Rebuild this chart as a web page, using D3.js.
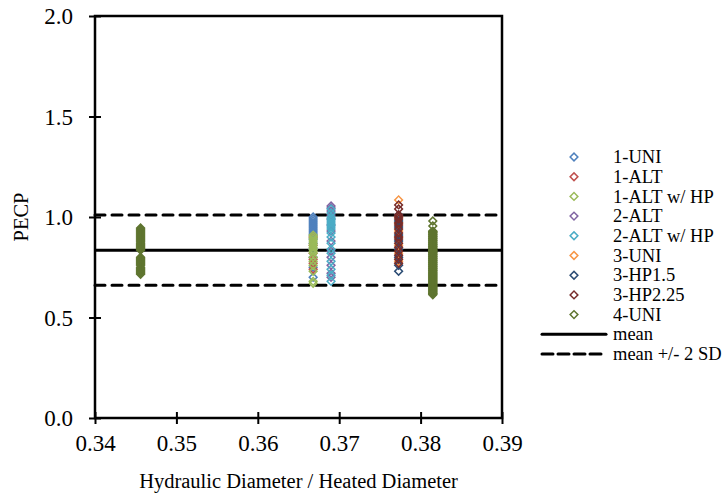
<!DOCTYPE html>
<html>
<head>
<meta charset="utf-8">
<script src="https://cdn.jsdelivr.net/npm/d3@7"></script>
<style>
  html, body { margin: 0; padding: 0; background: #fff; }
  svg { display: block; }
  svg text { font-family: 'Liberation Serif', 'Times New Roman', serif; fill: #000; }
  svg text.tick-label { font-size: 23px; }
</style>
</head>
<body>
<svg id="chart" width="727" height="500"></svg>
<script>
// Series names and marker colours
const seriesNames = ["1-UNI", "1-ALT", "1-ALT w/ HP", "2-ALT", "2-ALT w/ HP", "3-UNI", "3-HP1.5", "3-HP2.25", "4-UNI"];
const seriesColors = ["#4F81BD", "#C0504D", "#9BBB59", "#8064A2", "#4BACC6", "#F79646", "#2C4D75", "#772C2A", "#5F7530"];

// Hydraulic / heated diameter ratio of each geometry
const xGeom1 = 0.3668;
const xGeom2 = 0.3690;
const xGeom3 = 0.3773;
const xGeom4a = 0.3456;
const xGeom4b = 0.3815;

// PECP values per series
const uni1 = [1.00, 0.99, 0.98, 0.97, 0.96, 0.95, 0.94, 0.93, 0.92, 0.91, 0.89, 0.87, 0.84, 0.80, 0.75, 0.70];
const alt1 = [0.90, 0.86, 0.82, 0.79, 0.77, 0.74];
const altHp1 = [0.91, 0.90, 0.89, 0.88, 0.87, 0.86, 0.85, 0.84, 0.83, 0.82, 0.80, 0.78, 0.76, 0.73, 0.68, 0.67];
const alt2 = [1.055, 1.045, 1.03, 1.01, 0.99, 0.96, 0.93, 0.88, 0.83, 0.80, 0.76, 0.72, 0.70];
const altHp2 = [1.04, 1.02, 1.00, 0.99, 0.98, 0.97, 0.96, 0.95, 0.94, 0.92, 0.90, 0.87, 0.84, 0.82, 0.78, 0.74, 0.71, 0.68];
const uni3 = [1.085, 1.00, 0.97, 0.93, 0.90, 0.86, 0.82, 0.78];
const hp15 = [1.01, 0.98, 0.95, 0.91, 0.88, 0.84, 0.80, 0.76, 0.73];
const hp225 = [1.06, 1.04, 1.01, 1.00, 0.99, 0.97, 0.96, 0.94, 0.92, 0.90, 0.89, 0.87, 0.85, 0.83, 0.81, 0.79, 0.77];
const uni4a = [0.945, 0.94, 0.935, 0.93, 0.925, 0.92, 0.915, 0.91, 0.905, 0.90, 0.895, 0.89, 0.885, 0.88, 0.875, 0.87, 0.865,
               0.86, 0.855, 0.85, 0.845, 0.84, 0.835, 0.80, 0.795, 0.79, 0.785, 0.78, 0.775, 0.77, 0.765, 0.76, 0.75,
               0.745, 0.74, 0.735, 0.73, 0.725, 0.72, 0.715];
const uni4b = [0.98, 0.955, 0.93, 0.928, 0.925, 0.922, 0.92, 0.915, 0.912, 0.91, 0.905, 0.902, 0.90, 0.895, 0.892, 0.89, 0.885,
               0.882, 0.88, 0.875, 0.872, 0.87, 0.865, 0.862, 0.86, 0.855, 0.852, 0.85, 0.845, 0.842, 0.84, 0.835, 0.832,
               0.83, 0.825, 0.822, 0.82, 0.815, 0.812, 0.81, 0.805, 0.802, 0.80, 0.795, 0.792, 0.79, 0.785, 0.782, 0.78,
               0.775, 0.772, 0.77, 0.765, 0.762, 0.76, 0.755, 0.752, 0.75, 0.745, 0.742, 0.74, 0.735, 0.732, 0.73, 0.725,
               0.722, 0.72, 0.715, 0.712, 0.71, 0.705, 0.702, 0.70, 0.695, 0.692, 0.69, 0.685, 0.682, 0.68, 0.675, 0.672,
               0.67, 0.665, 0.662, 0.66, 0.655, 0.652, 0.65, 0.645, 0.642, 0.64, 0.635, 0.632, 0.63, 0.625, 0.622, 0.62,
               0.617, 0.613];

// Summary statistics
const meanPecp = 0.835;
const sdPecp = 0.0875;

// Axis ticks
const xTicks = [0.34, 0.35, 0.36, 0.37, 0.38, 0.39];
const yTicks = [0.0, 0.5, 1.0, 1.5, 2.0];

// Points assembled per series
const seriesPoints = [
  uni1.map(v => [xGeom1, v]),
  alt1.map(v => [xGeom1, v]),
  altHp1.map(v => [xGeom1, v]),
  alt2.map(v => [xGeom2, v]),
  altHp2.map(v => [xGeom2, v]),
  uni3.map(v => [xGeom3, v]),
  hp15.map(v => [xGeom3, v]),
  hp225.map(v => [xGeom3, v]),
  uni4a.map(v => [xGeom4a, v]).concat(uni4b.map(v => [xGeom4b, v]))
];

const svg = d3.select("#chart");
const plot = { left: 95, right: 502, top: 16, bottom: 418 };

const x = d3.scaleLinear().domain([0.34, 0.39]).range([plot.left, plot.right]);
const y = d3.scaleLinear().domain([0, 2]).range([plot.bottom, plot.top]);
const fmtY = d3.format(".1f");
const fmtX = d3.format(".2f");

// Frame
svg.append("rect")
  .attr("x", plot.left).attr("y", plot.top)
  .attr("width", plot.right - plot.left).attr("height", plot.bottom - plot.top)
  .attr("fill", "none").attr("stroke", "#000").attr("stroke-width", 2.5);

// Y axis: ticks crossing the spine, labels added per tick
const yAxis = svg.append("g").attr("transform", `translate(${plot.left},0)`)
  .call(d3.axisLeft(y).tickValues(yTicks).tickFormat("").tickSizeInner(6).tickSizeOuter(0));
yAxis.select(".domain").remove();
yAxis.selectAll(".tick text").remove();
yAxis.selectAll(".tick line").attr("x1", -6).attr("x2", 6).attr("stroke-width", 2);
yAxis.selectAll(".tick").append("text")
  .attr("class", "tick-label")
  .attr("x", -22).attr("dy", "0.34em").attr("text-anchor", "end")
  .text(d => fmtY(d));

// X axis
const xAxis = svg.append("g").attr("transform", `translate(0,${plot.bottom})`)
  .call(d3.axisBottom(x).tickValues(xTicks).tickFormat("").tickSizeInner(6).tickSizeOuter(0));
xAxis.select(".domain").remove();
xAxis.selectAll(".tick text").remove();
xAxis.selectAll(".tick line").attr("y1", -6).attr("y2", 6).attr("stroke-width", 2);
xAxis.selectAll(".tick").append("text")
  .attr("class", "tick-label")
  .attr("y", 33).attr("text-anchor", "middle")
  .text(d => fmtX(d));

// Axis titles
svg.append("text")
  .attr("x", (plot.left + plot.right) / 2).attr("y", 488)
  .attr("text-anchor", "middle").attr("font-size", 20.5)
  .text("Hydraulic Diameter / Heated Diameter");
svg.append("text")
  .attr("transform", `translate(28,${(plot.top + plot.bottom) / 2}) rotate(-90)`)
  .attr("text-anchor", "middle").attr("font-size", 20.5)
  .text("PECP");

// Mean and +/- 2 SD lines
const refLines = [
  { v: meanPecp, dash: null },
  { v: meanPecp + 2 * sdPecp, dash: "10,7" },
  { v: meanPecp - 2 * sdPecp, dash: "10,7" }
];
svg.append("g").selectAll("line").data(refLines).join("line")
  .attr("x1", plot.left).attr("x2", plot.right)
  .attr("y1", d => y(d.v)).attr("y2", d => y(d.v))
  .attr("stroke", "#000").attr("stroke-width", 3)
  .attr("stroke-linecap", d => d.dash ? "round" : "butt")
  .attr("stroke-dasharray", d => d.dash);

// Hollow diamond markers
const diamond = d3.symbol(d3.symbolSquare, 30)();
const markers = svg.append("g");
seriesPoints.forEach((pts, i) => {
  markers.append("g").selectAll("path").data(pts).join("path")
    .attr("d", diamond)
    .attr("transform", d => `translate(${x(d[0])},${y(d[1])}) rotate(45)`)
    .attr("fill", "none")
    .attr("stroke", seriesColors[i])
    .attr("stroke-width", 1.5);
});

// Legend
const legend = svg.append("g");
const legY0 = 157, legStep = 19.7, legMarkerX = 574, legTextX = 613, legFont = 18.5;
seriesNames.forEach((name, i) => {
  const yy = legY0 + i * legStep;
  legend.append("path").attr("d", diamond)
    .attr("transform", `translate(${legMarkerX},${yy}) rotate(45)`)
    .attr("fill", "none").attr("stroke", seriesColors[i]).attr("stroke-width", 1.5);
  legend.append("text").attr("x", legTextX).attr("y", yy).attr("dy", "0.33em")
    .attr("font-size", legFont).text(name);
});
const lineLegend = [
  { name: "mean", dash: null },
  { name: "mean +/- 2 SD", dash: "11,5" }
];
lineLegend.forEach((d, j) => {
  const yy = legY0 + (seriesNames.length + j) * legStep;
  legend.append("line").attr("x1", 542).attr("x2", 606).attr("y1", yy).attr("y2", yy)
    .attr("stroke", "#000").attr("stroke-width", 3)
    .attr("stroke-linecap", "round").attr("stroke-dasharray", d.dash);
  legend.append("text").attr("x", legTextX).attr("y", yy).attr("dy", "0.33em")
    .attr("font-size", legFont).text(d.name);
});
</script>
</body>
</html>
